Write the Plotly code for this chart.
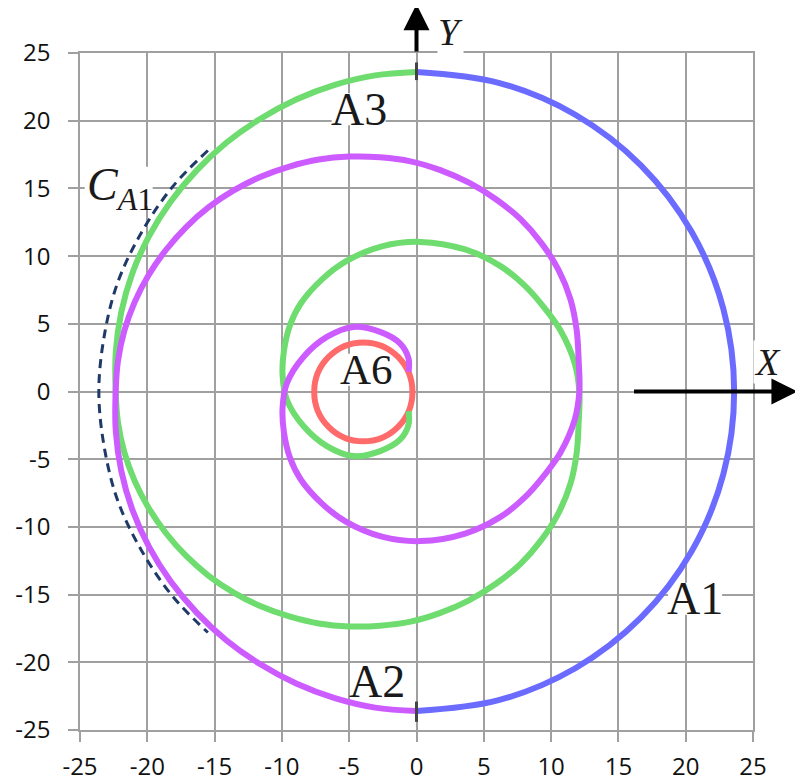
import plotly.graph_objects as go

# ---- data ----
tick_vals = [-25, -20, -15, -10, -5, 0, 5, 10, 15, 20, 25]
tick_text = [str(v) for v in tick_vals]

# A1 (blue) right semicircle
a1_x = [0, 6.1, 11.8, 16.69, 20.44, 22.8, 23.6, 22.8, 20.44, 16.69, 11.8, 6.1, 0]
a1_y = [23.6, 22.8, 20.44, 16.69, 11.8, 6.1, 0, -6.1, -11.8, -16.69, -20.44, -22.8, -23.6]

# C_A1 dashed continuation of A1
ca1_x = [-15.5, -18.1, -20.4, -22.2, -23.2, -23.6, -23.2, -22.2, -20.4, -18.1, -15.5]
ca1_y = [17.8, 15.15, 11.8, 8.05, 4.1, 0, -4.1, -8.05, -11.8, -15.15, -17.8]

# magenta spiral (A2 ...), starting at the bottom of A1
mag_x = [0, -3.07, -6.07, -8.94, -11.63, -14.11, -16.33, -18.27, -19.87, -21.11, -21.93, -22.34, -22.35,
         -22.18, -21.71, -20.94, -19.9, -18.62, -17.13, -15.44, -13.58, -11.57, -9.45, -7.26, -5.0,
         -2.72, -0.44, 1.77, 3.9, 5.9, 7.73, 9.28, 10.55, 11.44, 11.9, 12.05, 12.1,
         11.75, 10.7, 9.4, 8.08, 6.21, 3.61, 0.3, -2.57, -5.25, -7.0, -8.6, -9.4, -9.85, -9.95,
         -9.64, -8.4, -6.66, -4.68, -2.7, -1.21, -0.59, -0.59]
mag_y = [-23.6, -23.35, -22.65, -21.57, -20.13, -18.39, -16.33, -14.02, -11.48, -8.74, -5.88, -2.94, 0,
         2.26, 4.48, 6.6, 8.6, 10.45, 12.13, 13.61, 14.85, 15.86, 16.61, 17.13, 17.35,
         17.3, 17.0, 16.35, 15.42, 14.2, 12.73, 10.96, 8.98, 6.81, 4.53, 2.25, 0,
         -2.1, -4.5, -6.3, -7.78, -9.28, -10.49, -11.05, -10.72, -9.61, -8.3, -6.5, -4.9, -3.0, -1.2,
         0.59, 2.55, 4.03, 4.77, 4.4, 3.54, 2.43, 1.45]

# green spiral (A3 ...), starting at the top of A1
grn_x = [0, -3.07, -6.07, -8.94, -11.63, -14.11, -16.33, -18.27, -19.87, -21.11, -21.93, -22.34, -22.35,
         -22.18, -21.71, -20.94, -19.9, -18.62, -17.13, -15.44, -13.58, -11.57, -9.45, -7.26, -5.0,
         -2.72, -0.44, 1.77, 3.9, 5.9, 7.73, 9.28, 10.55, 11.44, 11.9, 12.05, 12.1,
         11.75, 10.7, 9.4, 8.08, 6.21, 3.61, 0.3, -2.57, -5.25, -7.0, -8.6, -9.4, -9.85, -9.95,
         -9.64, -8.4, -6.66, -4.68, -2.7, -1.21, -0.59, -0.59]
grn_y = [23.6, 23.35, 22.65, 21.57, 20.13, 18.39, 16.33, 14.02, 11.48, 8.74, 5.88, 2.94, 0,
         -2.26, -4.48, -6.6, -8.6, -10.45, -12.13, -13.61, -14.85, -15.86, -16.61, -17.13, -17.35,
         -17.3, -17.0, -16.35, -15.42, -14.2, -12.73, -10.96, -8.98, -6.81, -4.53, -2.25, 0,
         2.1, 4.5, 6.3, 7.78, 9.28, 10.49, 11.05, 10.72, 9.61, 8.3, 6.5, 4.9, 3.0, 1.2,
         -0.59, -2.55, -4.03, -4.77, -4.4, -3.54, -2.43, -1.45]

# A6 red circle (centre, radius)
a6_center = (-3.95, -0.03)
a6_radius = 3.65

# small tick marks where A1 meets the spirals
tick_mark_top = ([0, 0], [23.0, 24.3])
tick_mark_bot = ([0, 0], [-22.9, -24.4])

# labels: (text, x, y, size) in data units
labels = [
    ("A1", 20.7, -15.3, 46),
    ("A2", -2.9, -21.4, 46),
    ("A3", -4.3, 20.85, 46),
    ("A6", -3.7, 1.6, 43),
]
ca1_label = ("<i>C</i><sub><i>A</i>1</sub>", -24.65, 15.0)
ca1_box = (-24.65, -19.6, 13.7, 16.6)
x_label = ("<i>X</i>", 26.05, 2.2)
y_label = ("<i>Y</i>", 2.5, 26.55)
x_arrow = (16.05, 28.3)   # tail x, tip x at y=0
y_arrow = (25.0, 28.6)    # tail y, tip y at x=0
RANGE = [-25, 25]

BLUE = "#6b6bff"
GREEN = "#6edc6e"
MAGENTA = "#cc5cff"
RED = "#ff6b6b"
NAVY = "#1f3a68"
GRID = "#a0a0a0"
TEXT = "#1a1a1a"

W, H = 803, 780
ML, MR, MT, MB = 72, 58, 45, 58
PX_X = (W - ML - MR) / (RANGE[1] - RANGE[0])
PX_Y = (H - MT - MB) / (RANGE[1] - RANGE[0])
BOX_HW, BOX_HH = 27, 16   # white label box half size in pixels


def to_paper(v):
    return (v - RANGE[0]) / (RANGE[1] - RANGE[0])


fig = go.Figure()

# white boxes behind labels: above the grid, below the curves
for t, x, y, s in labels:
    fig.add_shape(type="rect", xref="x", yref="y", x0=x - BOX_HW / PX_X, x1=x + BOX_HW / PX_X,
                  y0=y - BOX_HH / PX_Y, y1=y + BOX_HH / PX_Y, fillcolor="white",
                  line=dict(width=0), layer="between")
fig.add_shape(type="rect", xref="x", yref="y", x0=ca1_box[0], x1=ca1_box[1], y0=ca1_box[2], y1=ca1_box[3],
              fillcolor="white", line=dict(width=0), layer="between")

fig.add_trace(go.Scatter(x=ca1_x, y=ca1_y, mode="lines",
                         line=dict(color=NAVY, width=3, dash="9px,6px", shape="spline"), hoverinfo="skip"))
fig.add_trace(go.Scatter(x=a1_x, y=a1_y, mode="lines", line=dict(color=BLUE, width=6, shape="spline"), hoverinfo="skip"))
fig.add_trace(go.Scatter(x=grn_x, y=grn_y, mode="lines", line=dict(color=GREEN, width=6, shape="spline"), hoverinfo="skip"))
fig.add_trace(go.Scatter(x=mag_x, y=mag_y, mode="lines", line=dict(color=MAGENTA, width=6, shape="spline"), hoverinfo="skip"))
for tm in (tick_mark_top, tick_mark_bot):
    fig.add_trace(go.Scatter(x=tm[0], y=tm[1], mode="lines", line=dict(color="#444444", width=3), hoverinfo="skip"))

cx, cy = a6_center
fig.add_shape(type="circle", xref="x", yref="y", x0=cx - a6_radius, x1=cx + a6_radius,
              y0=cy - a6_radius, y1=cy + a6_radius, line=dict(color=RED, width=6), layer="between")

serif = "Liberation Serif"
for t, x, y, s in labels:
    fig.add_annotation(x=x, y=y, text=t, showarrow=False, font=dict(family=serif, size=s, color=TEXT))
fig.add_annotation(x=ca1_label[1], y=ca1_label[2], text=ca1_label[0], showarrow=False, xanchor="left",
                   font=dict(family=serif, size=46, color=TEXT))
for t, x, y in (x_label, y_label):
    fig.add_annotation(x=to_paper(x), y=to_paper(y), xref="paper", yref="paper", text=t, showarrow=False,
                       xanchor="center", yanchor="middle", bgcolor="white", borderpad=0,
                       font=dict(family=serif, size=38, color=TEXT))

fig.add_annotation(x=x_arrow[1], y=0, ax=x_arrow[0], ay=0,
                   xref="x", yref="y", axref="x", ayref="y",
                   text="", showarrow=True, arrowhead=2, arrowsize=1.3, arrowwidth=4, arrowcolor="black")
fig.add_annotation(x=0, y=y_arrow[1], ax=0, ay=y_arrow[0],
                   xref="x", yref="y", axref="x", ayref="y",
                   text="", showarrow=True, arrowhead=2, arrowsize=1.3, arrowwidth=4, arrowcolor="black")

axis_common = dict(range=RANGE, tickmode="array", tickvals=tick_vals, ticktext=tick_text,
                   showgrid=True, gridcolor=GRID, gridwidth=1.5, zeroline=False,
                   showline=True, linecolor=GRID, linewidth=1.5, mirror=True,
                   ticks="outside", ticklen=10, tickcolor=GRID, tickwidth=1.5, automargin=False,
                   tickfont=dict(family="Open Sans", size=24, color="#111111"))
fig.update_xaxes(**axis_common, ticklabelstandoff=4)
fig.update_yaxes(**axis_common, ticklabelstandoff=13)
# page body has an 8px margin, so the margins are trimmed by 8px on the left/top
fig.update_layout(width=W, height=H, margin=dict(l=ML, r=MR, t=MT, b=MB),
                  plot_bgcolor="white", paper_bgcolor="white", showlegend=False)

fig.write_html("out.html")
